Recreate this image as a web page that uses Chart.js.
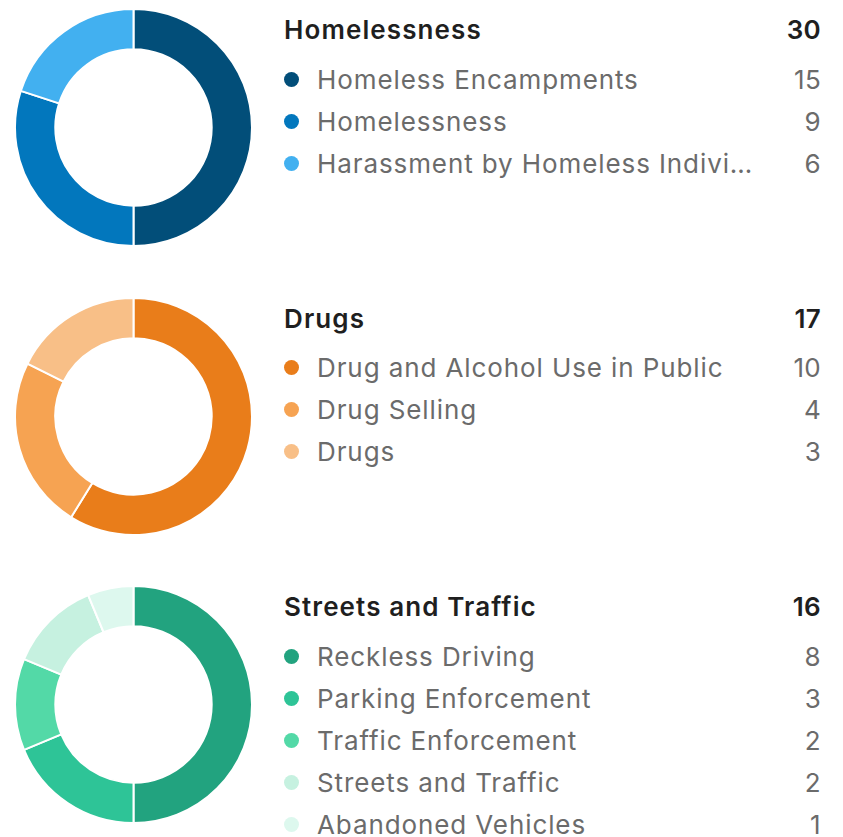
<!DOCTYPE html>
<html>
<head>
<meta charset="utf-8">
<script src="https://cdn.jsdelivr.net/npm/chart.js@4"></script>
<style>
  html, body { margin: 0; padding: 0; background: #fff; }
  body { width: 843px; height: 837px; overflow: hidden; position: relative; font-family: Inter, sans-serif; }
  .group { position: absolute; left: 0; width: 843px; height: 289px; }
  .donut { position: absolute; left: 14px; top: -1px; width: 239px; height: 239px; }
  .legend { position: absolute; left: 284px; width: 537px; top: 0; }
  .head { display: flex; justify-content: space-between; font-size: 26px; font-weight: 600; letter-spacing: 1.1px; color: #1f1f1f; height: 30px; line-height: 30px; margin-top: 6px; margin-bottom: 13px; }
  .row { display: flex; align-items: center; height: 42px; font-size: 26px; letter-spacing: 0.9px; color: #6b6b6b; }
  .dot { width: 15px; height: 15px; border-radius: 50%; flex: none; margin-right: 18px; }
  .lbl { flex: 1; white-space: nowrap; overflow: hidden; text-overflow: ellipsis; }
  .val { flex: none; width: 64px; text-align: right; }
  .head span:last-child, .val { letter-spacing: 0.3px; }
</style>
</head>
<body>
<script>
// complaint groups, subcategories and counts
const groups = ['Homelessness', 'Drugs', 'Streets and Traffic'];

const homelessLabels = ['Homeless Encampments', 'Homelessness', 'Harassment by Homeless Individuals'];
const homelessCounts = [15, 9, 6];
const homelessColors = ['#024e79', '#0277bd', '#42b0f0'];

const drugLabels = ['Drug and Alcohol Use in Public', 'Drug Selling', 'Drugs'];
const drugCounts = [10, 4, 3];
const drugColors = ['#e97d1a', '#f6a352', '#f8bf87'];

const streetLabels = ['Reckless Driving', 'Parking Enforcement', 'Traffic Enforcement', 'Streets and Traffic', 'Abandoned Vehicles'];
const streetCounts = [8, 3, 2, 2, 1];
const streetColors = ['#22a37f', '#2ec497', '#53d9a7', '#c6f1e0', '#ddf8ee'];

const groupData = [
  [homelessLabels, homelessCounts, homelessColors],
  [drugLabels, drugCounts, drugColors],
  [streetLabels, streetCounts, streetColors]
];

groups.forEach((name, i) => {
  const [labels, counts, colors] = groupData[i];
  const total = counts.reduce((a, b) => a + b, 0);

  const box = document.createElement('div');
  box.className = 'group';
  box.style.top = (9 + i * 288.5) + 'px';

  const wrap = document.createElement('div');
  wrap.className = 'donut';
  const canvas = document.createElement('canvas');
  wrap.appendChild(canvas);
  box.appendChild(wrap);

  const legend = document.createElement('div');
  legend.className = 'legend';
  let html = `<div class="head"><span>${name}</span><span>${total}</span></div>`;
  labels.forEach((l, j) => {
    html += `<div class="row"><span class="dot" style="background:${colors[j]}"></span>` +
      `<span class="lbl">${l}</span><span class="val">${counts[j]}</span></div>`;
  });
  legend.innerHTML = html;
  box.appendChild(legend);
  document.body.appendChild(box);

  new Chart(canvas.getContext('2d'), {
    type: 'doughnut',
    data: {
      labels: labels,
      datasets: [{
        data: counts,
        backgroundColor: colors,
        borderColor: '#fff',
        borderWidth: 2
      }]
    },
    options: {
      responsive: true,
      maintainAspectRatio: false,
      animation: false,
      cutout: '66%',
      plugins: {
        legend: { display: false },
        tooltip: { enabled: false }
      }
    }
  });
});
</script>
</body>
</html>
